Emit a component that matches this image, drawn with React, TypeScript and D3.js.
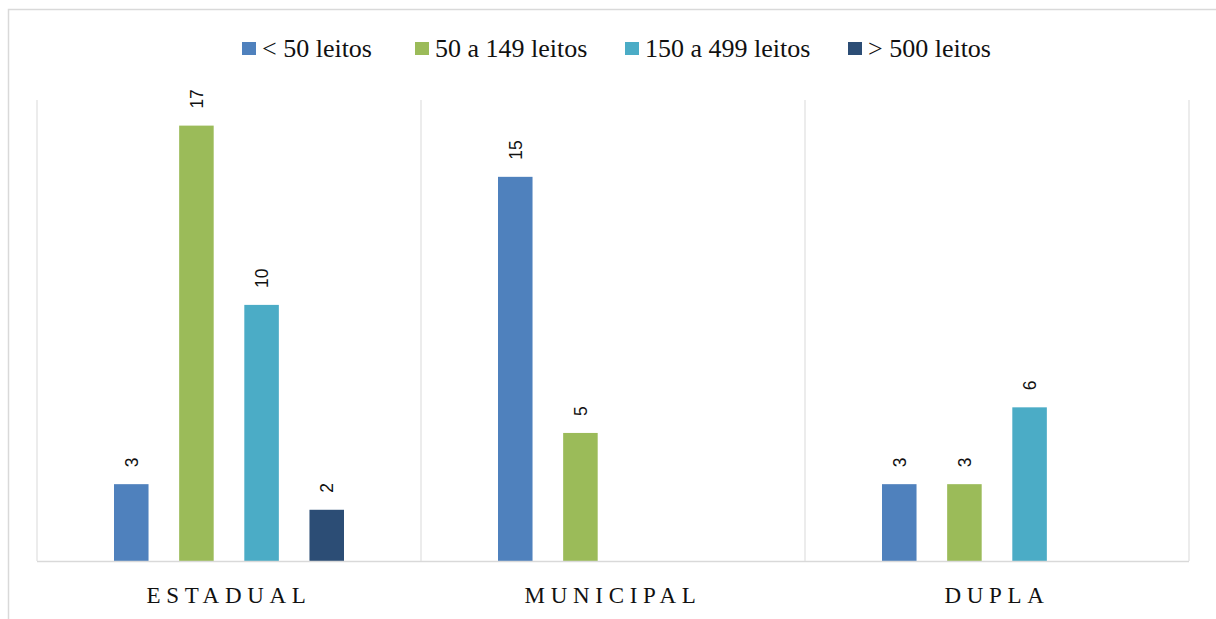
import React from "react";
import * as d3 from "d3";

const categories = ["ESTADUAL", "MUNICIPAL", "DUPLA"];
const seriesNames = ["< 50 leitos", "50 a 149 leitos", "150 a 499 leitos", "> 500 leitos"];
const seriesColors = ["#4F81BD", "#9BBB59", "#4BACC6", "#2C4D75"];
const valuesLt50 = [3, 15, 3];
const values50to149 = [17, 5, 3];
const values150to499 = [10, null, 6];
const valuesGt500 = [2, null, null];
const series = [valuesLt50, values50to149, values150to499, valuesGt500];

const W = 1216;
const H = 619;
const plot = { left: 37, right: 1189, top: 100, bottom: 561 };
const legendX = [242, 415, 625, 848];
const catSpacing = 5.7;

export default function App() {
  const x0 = d3.scaleBand<string>().domain(categories).range([plot.left, plot.right]).paddingInner(0).paddingOuter(0);
  const x1 = d3
    .scaleBand<number>()
    .domain(seriesNames.map((_, i) => i))
    .range([77, x0.bandwidth() - 77])
    .paddingInner(0.47)
    .paddingOuter(0);
  const y = d3.scaleLinear().domain([0, 18]).range([plot.bottom, plot.top]);

  return (
    <svg width={W} height={H} style={{ position: "absolute", left: 0, top: 0, background: "#fff" }}>
      <rect x={8.5} y={9.5} width={1300} height={700} fill="#fff" stroke="#d9d9d9" strokeWidth={1.5} />
      {/* legend */}
      {seriesNames.map((s, i) => (
        <g key={s}>
          <rect x={legendX[i]} y={42} width={14} height={13} fill={seriesColors[i]} />
          <text x={legendX[i] + 20} y={57} fontFamily="'Liberation Serif', 'Times New Roman', serif" fontSize={26} fill="#111">
            {s}
          </text>
        </g>
      ))}
      {/* category dividers / plot edges */}
      {[...categories.map((c) => x0(c)!), plot.right].map((xv, i) => (
        <line key={i} x1={xv} x2={xv} y1={plot.top} y2={plot.bottom} stroke="#d9d9d9" strokeWidth={1} />
      ))}
      {/* bars */}
      {categories.map((c, ci) => (
        <g key={c} transform={`translate(${x0(c)},0)`}>
          {series.map((vals, si) => {
            const v = vals[ci];
            if (v == null) return null;
            const bx = x1(si)!;
            const bw = x1.bandwidth();
            return (
              <g key={si}>
                <rect x={bx} y={y(v)} width={bw} height={plot.bottom - y(v)} fill={seriesColors[si]} />
                <text
                  transform={`translate(${bx + bw / 2 + 6.5},${y(v) - 17}) rotate(-90)`}
                  fontFamily="'Liberation Sans', Arial, sans-serif"
                  fontSize={17.5}
                  fill="#111"
                >
                  {v}
                </text>
              </g>
            );
          })}
        </g>
      ))}
      {/* baseline */}
      <line x1={plot.left} x2={plot.right} y1={plot.bottom + 0.5} y2={plot.bottom + 0.5} stroke="#d9d9d9" strokeWidth={1.5} />
      {/* category labels */}
      {categories.map((c) => (
        <text
          key={c}
          x={x0(c)! + x0.bandwidth() / 2}
          y={603}
          textAnchor="middle"
          fontFamily="'Liberation Serif', 'Times New Roman', serif"
          fontSize={23}
          letterSpacing={catSpacing}
          fill="#111"
        >
          {c}
        </text>
      ))}
    </svg>
  );
}
